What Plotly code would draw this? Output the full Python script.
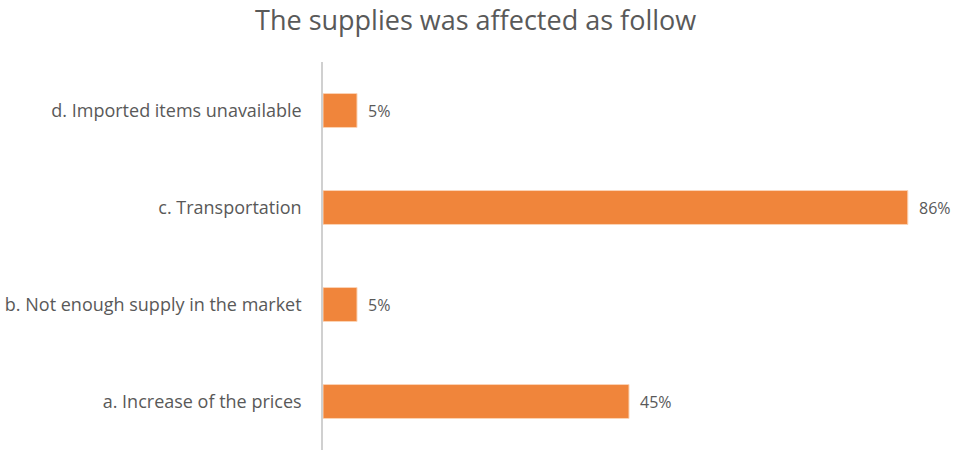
import plotly.graph_objects as go

categories = [
    "a. Increase of the prices",
    "b. Not enough supply in the market",
    "c. Transportation",
    "d. Imported items unavailable",
]
values = [45, 5, 86, 5]
labels = ["45%", "5%", "86%", "5%"]

FONT = "'Open Sans', Lato, sans-serif"
GREY = "#595959"

fig = go.Figure(
    go.Bar(
        x=values,
        y=categories,
        orientation="h",
        marker=dict(color="#F0853B", line=dict(color="#FBD3B5", width=1)),
        hoverinfo="skip",
    )
)

for v, c, t in zip(values, categories, labels):
    fig.add_annotation(
        x=v, y=c, text=t, showarrow=False, xanchor="left", xshift=9,
        font=dict(family=FONT, size=16, color=GREY),
    )

fig.update_layout(
    width=957,
    height=450,
    margin=dict(l=323, r=22, t=62, b=0),
    paper_bgcolor="white",
    plot_bgcolor="white",
    bargap=0.65,
    showlegend=False,
    title=dict(
        text="The supplies was affected as follow",
        x=0.497, xanchor="center", y=0.955, yanchor="middle",
        font=dict(family=FONT, size=27, color=GREY),
    ),
    xaxis=dict(range=[0, 90], visible=False),
    yaxis=dict(
        showline=True, linecolor="#D0D0D0", linewidth=1.5,
        showgrid=False, ticks="", ticklabelstandoff=16,
        range=[-0.5, 3.5],
        tickfont=dict(family=FONT, size=18, color=GREY),
    ),
)

fig.write_html("out.html")
